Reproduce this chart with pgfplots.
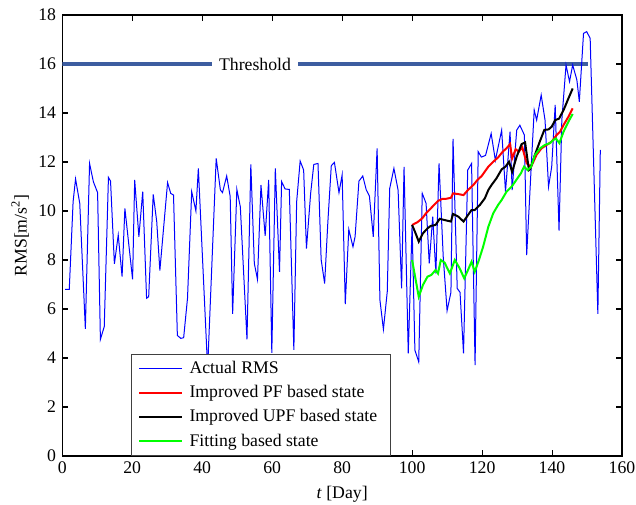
\documentclass[border=0pt]{standalone}
\usepackage{fontspec}
\setmainfont{Liberation Serif}
\usepackage{pgfplots}
\pgfplotsset{compat=1.18}
\definecolor{thr}{RGB}{61,93,160}
\definecolor{myblue}{RGB}{0,0,255}
\definecolor{myred}{RGB}{255,0,0}
\definecolor{mygreen}{RGB}{0,255,0}
\newcommand{\myfont}{\fontsize{13.3}{16}\selectfont}
\begin{document}
\myfont
\begin{tikzpicture}[font=\myfont]
\useasboundingbox (-46.7pt,-36pt) rectangle (430.3pt,342pt);
\begin{axis}[
  at={(0,0)}, anchor=south west,
  scale only axis, width=419.8pt, height=330.75pt,
  xmin=0, xmax=160, ymin=0, ymax=18,
  xtick={0,20,...,160}, ytick={0,2,...,18},
  tick align=inside, tick pos=both,
  major tick length=4.5pt,
  /pgf/number format/assume math mode=true,
  tick label style={font=\myfont},
  label style={font=\myfont},
  axis line style={line width=1pt},
  every tick/.style={line width=0.8pt, black},
  xlabel={\textit{t} [Day]},
  ylabel={RMS[m/s\textsuperscript{2}]},
  ylabel style={yshift=-2pt},
  legend cell align=left,
  legend style={at={(0.1227,0)}, anchor=south west, draw=black!75, line width=0.9pt,
    fill=white, inner xsep=5pt, inner ysep=3pt, row sep=3pt, font=\myfont,
    nodes={inner xsep=5pt}},
  legend image code/.code={\draw[#1] (0pt,0pt) -- (32pt,0pt);},
]
\addplot[thr, line width=3pt, forget plot] coordinates {(0,16) (150.3,16)};
\node[fill=white, inner xsep=5pt, inner ysep=1pt] at (axis cs:55.1,16) {Threshold};
\addplot[myblue, line width=0.75pt] coordinates {
(0.8,6.80)(2.0,6.80)(3.1,10.38)(3.8,11.31)(5.0,10.31)(6.6,5.19)(7.8,11.94)(8.9,11.19)(10.1,10.75)(10.9,4.76)
(12.0,5.28)(13.2,11.37)(13.8,11.22)(14.9,7.84)(16.0,9.02)(17.1,7.32)(17.9,10.11)(20.1,7.21)(20.7,11.27)(21.9,8.95)
(23.0,10.79)(24.1,6.44)(24.7,6.50)(26.0,10.68)(27.0,9.57)(27.9,7.57)(30.1,11.16)(31.0,10.72)(31.8,10.65)(32.9,4.92)
(33.9,4.80)(34.7,4.83)(35.8,6.44)(37.0,10.79)(38.2,10.0)(38.9,11.74)(41.4,4.03)(41.7,4.08)(44.0,12.15)(45.2,10.86)
(45.8,10.75)(47.0,11.43)(48.0,10.59)(48.7,5.80)(49.9,10.88)(50.9,10.17)(52.8,4.76)(53.9,11.9)(54.9,7.86)(55.8,7.21)
(56.8,11.06)(58.0,8.99)(59.0,11.27)(59.9,4.21)(60.9,11.74)(62.1,7.52)(62.7,11.2)(63.7,10.9)(64.9,10.88)(66.2,4.33)
(67.0,10.38)(68.0,12.04)(69.0,11.67)(69.8,8.47)(71.0,10.72)(71.9,11.9)(73.1,11.94)(74.0,8.02)(75.0,7.04)(75.9,9.5)
(76.9,11.85)(77.8,11.98)(79.1,10.75)(80.0,11.47)(80.9,6.2)(81.9,9.25)(83.1,8.54)(83.7,8.95)(84.8,11.22)(85.9,11.43)
(86.9,10.86)(87.8,10.61)(88.9,8.95)(90.0,12.56)(90.8,6.37)(91.8,5.17)(92.9,6.71)(93.6,10.92)(94.8,11.74)(96.0,10.85)
(97.0,6.84)(97.7,11.8)(98.9,4.19)(100.0,9.43)(100.8,4.32)(101.9,3.84)(102.9,10.72)(104.0,10.31)(104.9,7.86)(105.9,9.77)
(106.8,7.45)(107.7,11.94)(108.9,8.13)(110.0,5.93)(111.1,6.68)(111.7,12.94)(112.9,6.84)(113.7,6.68)(114.7,4.19)(115.9,11.67)
(117.0,11.94)(118.0,3.71)(118.9,12.42)(119.8,12.2)(121.0,12.27)(122.6,13.16)(123.8,12.07)(125.6,13.3)(126.7,10.79)(128.0,13.24)
(128.6,10.85)(129.9,13.3)(130.8,13.5)(132.1,13.1)(132.75,8.2)(134.0,11.67)(134.9,14.12)(135.6,13.71)(136.9,14.73)(138.0,13.71)
(139.0,10.99)(139.9,11.8)(140.9,14.33)(142.0,9.2)(142.8,13.71)(144.0,15.96)(145.0,15.28)(145.9,15.96)(147.1,15.35)(147.8,14.46)
(149.0,17.25)(149.9,17.32)(150.9,17.05)(153.1,5.8)(153.8,12.49)
};
\addlegendentry{Actual RMS}
\addplot[myred, line width=1.5pt] coordinates {
(100.0,9.43)(101.5,9.54)(102.9,9.70)(104.1,9.93)(105.3,10.10)(106.7,10.31)(107.4,10.41)(108.6,10.49)(109.8,10.50)(111.1,10.54)
(111.7,10.72)(113.2,10.69)(114.7,10.65)(116.0,10.86)(117.5,11.06)(118.7,11.27)(119.9,11.43)(121.8,11.81)(123.2,12.01)(124.6,12.19)
(125.9,12.42)(127.0,12.56)(128.0,12.73)(128.6,12.15)(129.6,12.52)(130.5,12.42)(131.5,12.6)(132.75,11.95)(134.0,11.8)(135.6,12.3)
(137.0,12.56)(138.5,12.7)(139.9,12.83)(141.3,13.1)(142.3,13.24)(143.3,13.51)(144.7,13.85)(145.9,14.19)
};
\addlegendentry{Improved PF based state}
\addplot[black, line width=1.5pt] coordinates {
(100.0,9.43)(101.0,9.09)(101.9,8.75)(103.1,9.09)(104.4,9.29)(105.3,9.39)(106.7,9.43)(107.9,9.68)(109.3,9.63)(111.1,9.57)
(111.7,9.88)(113.2,9.77)(114.7,9.57)(116.0,9.84)(117.0,10.04)(117.9,10.04)(119.4,10.25)(120.8,10.52)(121.8,10.86)(122.7,11.06)
(124.1,11.33)(125.6,11.7)(126.7,11.81)(127.7,12.01)(128.6,11.6)(129.9,12.22)(131.3,12.73)(132.3,12.8)(133.4,11.67)(133.7,11.7)
(135.1,12.29)(136.6,12.87)(137.8,13.31)(139.0,13.33)(139.9,13.44)(140.9,13.71)(142.0,13.77)(143.3,14.12)(144.7,14.6)(145.9,15.0)
};
\addlegendentry{Improved UPF based state}
\addplot[mygreen, line width=1.5pt] coordinates {
(100.0,8.0)(101.9,6.5)(103.1,6.98)(104.4,7.32)(105.5,7.39)(106.7,7.59)(107.4,7.45)(108.2,8.0)(109.3,7.89)(110.8,7.45)
(112.2,8.0)(113.6,7.66)(114.9,7.25)(116.0,7.6)(117.0,7.93)(117.9,7.52)(119.1,8.0)(120.3,8.54)(121.8,9.36)(123.2,9.91)
(124.6,10.25)(125.6,10.45)(127.0,10.79)(128.6,11.02)(129.8,11.27)(131.1,11.54)(132.0,11.81)(133.0,11.67)(134.0,11.8)(135.1,12.28)
(136.6,12.56)(138.0,12.7)(139.4,12.77)(140.4,12.9)(141.1,12.96)(142.1,12.77)(143.3,13.24)(144.7,13.65)(145.9,13.96)
};
\addlegendentry{Fitting based state}
\end{axis}
\end{tikzpicture}
\end{document}
